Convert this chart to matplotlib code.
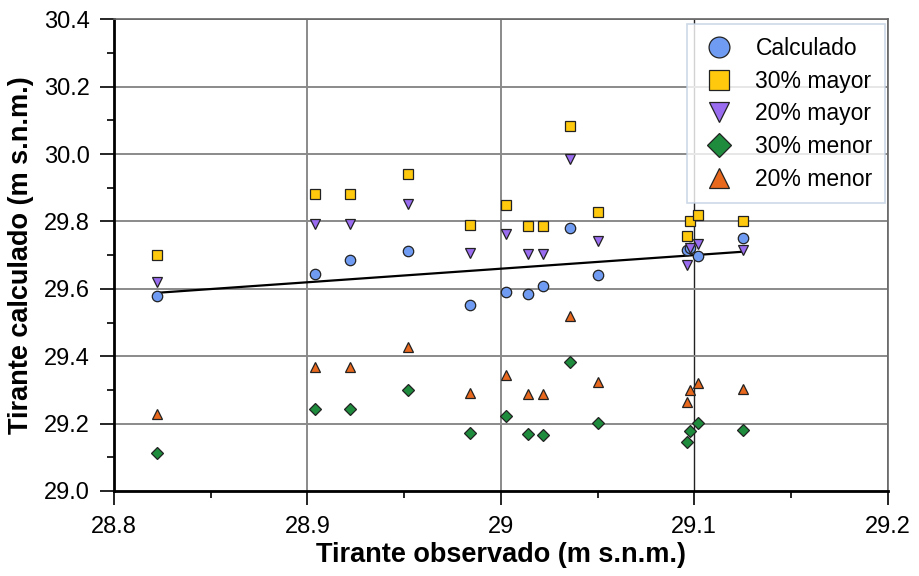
import matplotlib.pyplot as plt
from matplotlib.ticker import MultipleLocator, FixedLocator

plt.rcParams['font.family'] = ['Liberation Sans', 'DejaVu Sans']

# observed stage (x) for each sample
observado = [28.822, 28.904, 28.922, 28.952, 28.984, 29.0025, 29.014,
             29.0216, 29.0357, 29.050, 29.096, 29.098, 29.102, 29.125]

calculado = [29.579, 29.644, 29.685, 29.712, 29.553, 29.590, 29.585,
             29.608, 29.781, 29.642, 29.715, 29.720, 29.698, 29.750]
mayor_30 = [29.700, 29.880, 29.880, 29.942, 29.789, 29.850, 29.787,
            29.787, 30.082, 29.827, 29.757, 29.802, 29.820, 29.802]
mayor_20 = [29.619, 29.793, 29.793, 29.852, 29.705, 29.763, 29.703,
            29.703, 29.985, 29.743, 29.671, 29.720, 29.733, 29.715]
menor_30 = [29.112, 29.244, 29.244, 29.300, 29.172, 29.222, 29.170,
            29.167, 29.382, 29.202, 29.146, 29.178, 29.201, 29.181]
menor_20 = [29.227, 29.369, 29.369, 29.428, 29.291, 29.345, 29.289,
            29.289, 29.519, 29.324, 29.265, 29.300, 29.320, 29.304]

# trend line of calculado
trend_x = [28.822, 29.125]
trend_y = [29.588, 29.710]

series = [
 ('Calculado', calculado, 'o', '#6f9cf2', 7.5),
 ('30% mayor', mayor_30, 's', '#ffc90e', 7),
 ('20% mayor', mayor_20, 'v', '#9a6cf0', 7),
 ('30% menor', menor_30, 'D', '#1e8c3c', 6),
 ('20% menor', menor_20, '^', '#e8681e', 7),
]

fig = plt.figure(figsize=(9.19, 5.76), dpi=100)
ax = fig.add_axes([0.124, 0.1476, 0.842, 0.819])

ax.plot(trend_x, trend_y, color='black', lw=1.6, zorder=3)

handles = []
for name, vals, mk, col, ms in series:
 h, = ax.plot(observado, vals, ls='none', marker=mk, markersize=ms,
              markerfacecolor=col, markeredgecolor='#222222', markeredgewidth=0.9,
              label=name, zorder=4)
 handles.append(h)

ax.set_xlim(28.8, 29.2)
ax.set_ylim(29.0, 30.4)
ax.xaxis.set_major_locator(FixedLocator([28.8, 28.9, 29.0, 29.1, 29.2]))
ax.set_xticklabels(['28.8', '28.9', '29', '29.1', '29.2'])
ax.xaxis.set_minor_locator(MultipleLocator(0.05))
ax.yaxis.set_major_locator(MultipleLocator(0.2))
ax.yaxis.set_minor_locator(MultipleLocator(0.1))
ax.yaxis.set_major_formatter(plt.FormatStrFormatter('%.1f'))

ax.grid(True, which='major', color='#8a8a8a', lw=1.4, zorder=0)
ax.set_axisbelow(True)
ax.get_ygridlines()[1].set_color('#222222')
ax.get_ygridlines()[1].set_linewidth(1.0)
ax.get_xgridlines()[3].set_color('#222222')
ax.get_xgridlines()[3].set_linewidth(1.0)
ax.tick_params(which='major', direction='out', length=10, width=1.2, labelsize=17, colors='black')
ax.tick_params(axis='x', which='major', pad=8)
ax.tick_params(axis='y', which='major', pad=7.5)
ax.tick_params(which='minor', direction='out', length=5, width=1.2)

for s in ['left', 'bottom']:
 ax.spines[s].set_linewidth(2)
 ax.spines[s].set_color('black')
for s in ['top', 'right']:
 ax.spines[s].set_linewidth(1.2)
 ax.spines[s].set_color('#666666')

ax.set_xlabel('Tirante observado (m s.n.m.)', fontsize=19.5, fontweight='bold', labelpad=3)
ax.set_ylabel('Tirante calculado (m s.n.m.)', fontsize=19.5, fontweight='bold', labelpad=7)

leg = ax.legend(handles=handles, loc='upper right', bbox_to_anchor=(0.997, 0.989),
                borderaxespad=0, fontsize=16.5, markerscale=2.0, frameon=True,
                fancybox=False, handlelength=1.7, handletextpad=0.75,
                borderpad=0.55, labelspacing=0.42)
leg.get_frame().set_edgecolor('#c0d0e2')
leg.get_frame().set_linewidth(1.2)

fig.savefig('out.png', dpi=100)
